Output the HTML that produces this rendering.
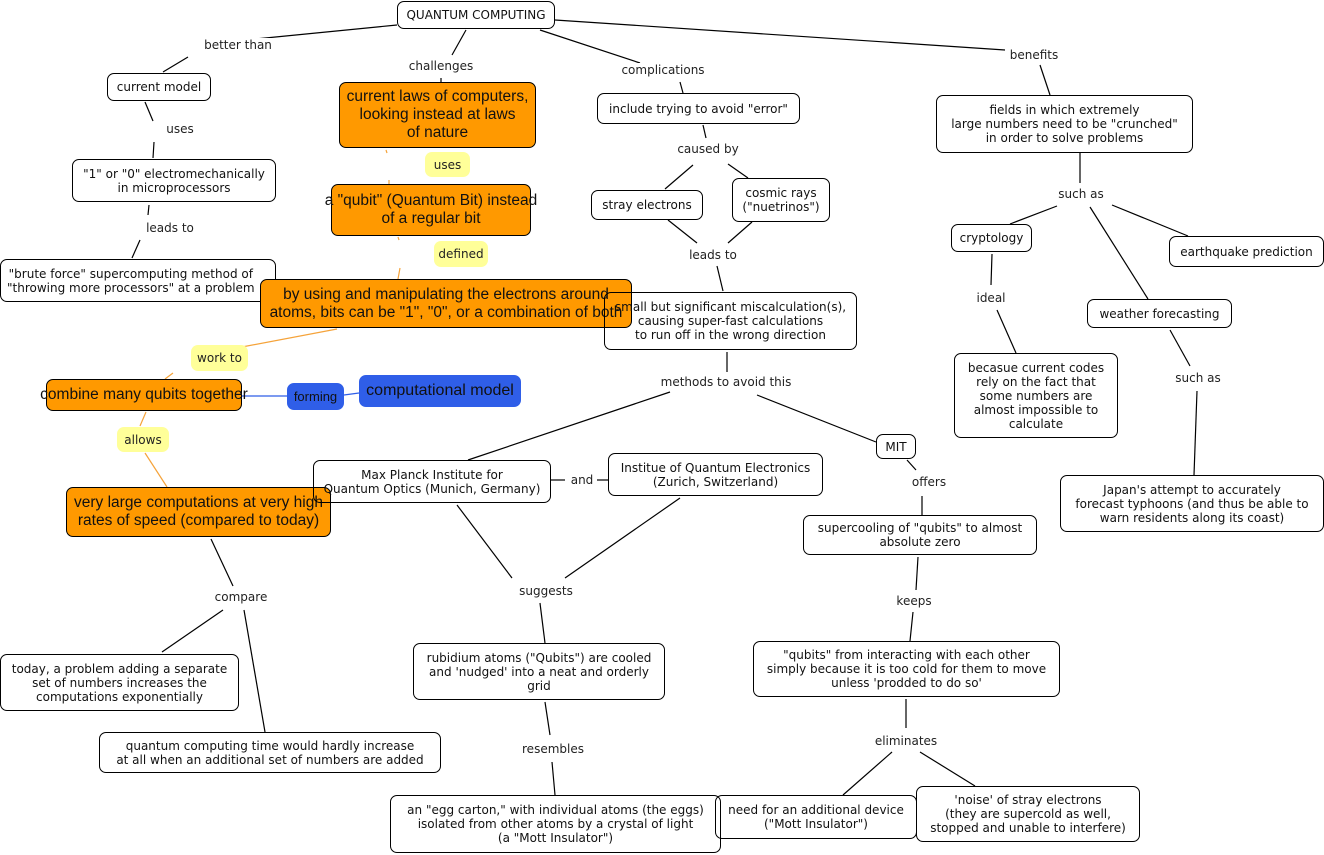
<!DOCTYPE html>
<html><head><meta charset="utf-8"><style>
body{margin:0;width:1324px;height:855px;background:#fff;position:relative;overflow:hidden;font-family:"DejaVu Sans","Liberation Sans",sans-serif;}
svg{position:absolute;left:0;top:0;}
.n{position:absolute;box-sizing:border-box;border:1px solid #000;border-radius:7px;display:flex;align-items:center;justify-content:center;text-align:center;font-size:12px;line-height:14px;color:#111;white-space:nowrap;}
.o{background:#f90;font-family:"Liberation Sans",sans-serif;font-size:15.5px;line-height:18px;color:#111;}
.b{background:#2f5ee8;border-color:#2f5ee8;color:#111;font-family:"Liberation Sans",sans-serif;font-size:16px;}
.y{position:absolute;background:#ffff99;border-radius:7px;display:flex;align-items:center;justify-content:center;font-size:12px;color:#222;}
.l{position:absolute;font-size:12px;color:#222;white-space:nowrap;transform:translate(-50%,-50%);background:#fff;padding:0 2px;}
</style></head><body>
<svg width="1324" height="855" stroke="#000" stroke-width="1.2" fill="none">
<line x1="397" y1="25" x2="245" y2="40"/><line x1="188" y1="57" x2="163" y2="72"/>
<line x1="466" y1="30" x2="452" y2="55"/><line x1="441" y1="78" x2="441" y2="84"/>
<line x1="540" y1="30" x2="640" y2="63"/><line x1="680" y1="82" x2="683" y2="93"/>
<line x1="555" y1="20" x2="1005" y2="50"/><line x1="1040" y1="65" x2="1050" y2="95"/>
<line x1="145" y1="102" x2="153" y2="121"/><line x1="154" y1="142" x2="153" y2="158"/>
<line x1="149" y1="205" x2="148" y2="215"/><line x1="140" y1="240" x2="132" y2="258"/>
<line x1="703" y1="125" x2="706" y2="138"/><line x1="693" y1="165" x2="665" y2="189"/><line x1="728" y1="164" x2="748" y2="178"/>
<line x1="668" y1="220" x2="697" y2="243"/><line x1="752" y1="222" x2="728" y2="243"/>
<line x1="717" y1="266" x2="723" y2="291"/>
<line x1="727" y1="352" x2="727" y2="372"/><line x1="670" y1="392" x2="468" y2="460"/><line x1="757" y1="395" x2="876" y2="442"/>
<line x1="1080" y1="153" x2="1080" y2="183"/><line x1="1057" y1="206" x2="1010" y2="224"/><line x1="1112" y1="205" x2="1188" y2="236"/><line x1="1090" y1="207" x2="1148" y2="299"/>
<line x1="992" y1="254" x2="991" y2="285"/><line x1="997" y1="310" x2="1016" y2="353"/>
<line x1="1170" y1="330" x2="1190" y2="366"/><line x1="1197" y1="391" x2="1194" y2="475"/>
<line x1="907" y1="460" x2="916" y2="470"/><line x1="922" y1="496" x2="922" y2="515"/>
<line x1="918" y1="557" x2="916" y2="590"/><line x1="913" y1="612" x2="910" y2="641"/>
<line x1="906" y1="699" x2="906" y2="728"/><line x1="892" y1="752" x2="843" y2="795"/><line x1="920" y1="752" x2="975" y2="786"/>
<line x1="551" y1="480" x2="565" y2="480"/><line x1="597" y1="480" x2="608" y2="480"/>
<line x1="457" y1="505" x2="512" y2="578"/><line x1="680" y1="498" x2="565" y2="578"/>
<line x1="540" y1="603" x2="545" y2="643"/><line x1="545" y1="702" x2="550" y2="735"/><line x1="552" y1="762" x2="555" y2="795"/>
<line x1="211" y1="539" x2="233" y2="586"/><line x1="223" y1="610" x2="162" y2="652"/><line x1="244" y1="610" x2="265" y2="732"/>
<g stroke="#f5a33a"><line x1="386" y1="150" x2="387" y2="153"/><line x1="389" y1="180" x2="389" y2="184"/>
<line x1="398" y1="237" x2="399" y2="240"/><line x1="400" y1="268" x2="398" y2="279"/>
<line x1="337" y1="329" x2="226" y2="350"/><line x1="173" y1="373" x2="165" y2="379"/>
<line x1="146" y1="412" x2="140" y2="426"/><line x1="145" y1="453" x2="167" y2="487"/></g>
<g stroke="#2f5ee8"><line x1="242" y1="396" x2="287" y2="396"/><line x1="344" y1="395" x2="359" y2="393"/></g>
</svg>
<div class="n" style="left:397px;top:1px;width:158px;height:28px">QUANTUM COMPUTING</div>
<div class="l" style="left:238px;top:45px">better than</div>
<div class="l" style="left:441px;top:66px">challenges</div>
<div class="l" style="left:663px;top:70px">complications</div>
<div class="l" style="left:1034px;top:55px">benefits</div>
<div class="n" style="left:107px;top:73px;width:104px;height:28px">current model</div>
<div class="l" style="left:180px;top:129px">uses</div>
<div class="n" style="left:72px;top:159px;width:204px;height:43px">"1" or "0" electromechanically<br>in microprocessors</div>
<div class="l" style="left:170px;top:228px">leads to</div>
<div class="n" style="left:0;top:259px;width:276px;height:43px;justify-content:flex-start;padding-left:6px;overflow:hidden">"brute force" supercomputing method of<br>"throwing more processors" at a problem</div>
<div class="n o" style="left:339px;top:82px;width:197px;height:66px">current laws of computers,<br>looking instead at laws<br>of nature</div>
<div class="y" style="left:425px;top:152px;width:45px;height:25px">uses</div>
<div class="n o" style="left:331px;top:184px;width:200px;height:52px">a "qubit" (Quantum Bit) instead<br>of a regular bit</div>
<div class="y" style="left:434px;top:241px;width:54px;height:26px">defined</div>
<div class="n o" style="left:260px;top:279px;width:372px;height:49px;overflow:hidden">by using and manipulating the electrons around<br>atoms, bits can be "1", "0", or a combination of both</div>
<div class="y" style="left:191px;top:345px;width:57px;height:26px">work to</div>
<div class="n o" style="left:46px;top:379px;width:196px;height:32px">combine many qubits together</div>
<div class="n b" style="left:287px;top:383px;width:57px;height:27px;font-size:13px">forming</div>
<div class="n b" style="left:359px;top:375px;width:162px;height:32px">computational model</div>
<div class="y" style="left:117px;top:427px;width:52px;height:25px">allows</div>
<div class="n o" style="left:66px;top:487px;width:265px;height:50px">very large computations at very high<br>rates of speed (compared to today)</div>
<div class="n" style="left:597px;top:93px;width:203px;height:31px">include trying to avoid "error"</div>
<div class="l" style="left:708px;top:149px">caused by</div>
<div class="n" style="left:591px;top:190px;width:112px;height:30px">stray electrons</div>
<div class="n" style="left:732px;top:178px;width:98px;height:44px">cosmic rays<br>("nuetrinos")</div>
<div class="l" style="left:713px;top:255px">leads to</div>
<div class="n" style="left:604px;top:292px;width:253px;height:58px">small but significant miscalculation(s),<br>causing super-fast calculations<br>to run off in the wrong direction</div>
<div class="l" style="left:726px;top:382px">methods to avoid this</div>
<div class="n" style="left:936px;top:95px;width:257px;height:58px">fields in which extremely<br>large numbers need to be "crunched"<br>in order to solve problems</div>
<div class="l" style="left:1081px;top:194px">such as</div>
<div class="n" style="left:951px;top:224px;width:81px;height:28px">cryptology</div>
<div class="n" style="left:1169px;top:236px;width:155px;height:31px">earthquake prediction</div>
<div class="l" style="left:991px;top:298px">ideal</div>
<div class="n" style="left:1087px;top:299px;width:145px;height:29px">weather forecasting</div>
<div class="n" style="left:954px;top:353px;width:164px;height:85px">becasue current codes<br>rely on the fact that<br>some numbers are<br>almost impossible to<br>calculate</div>
<div class="l" style="left:1198px;top:378px">such as</div>
<div class="n" style="left:1060px;top:475px;width:264px;height:57px">Japan's attempt to accurately<br>forecast typhoons (and thus be able to<br>warn residents along its coast)</div>
<div class="n" style="left:876px;top:434px;width:40px;height:25px">MIT</div>
<div class="l" style="left:929px;top:482px">offers</div>
<div class="n" style="left:313px;top:460px;width:238px;height:43px">Max Planck Institute for<br>Quantum Optics (Munich, Germany)</div>
<div class="l" style="left:582px;top:480px">and</div>
<div class="n" style="left:608px;top:453px;width:215px;height:43px">Institue of Quantum Electronics<br>(Zurich, Switzerland)</div>
<div class="n" style="left:803px;top:515px;width:234px;height:40px">supercooling of "qubits" to almost<br>absolute zero</div>
<div class="l" style="left:914px;top:601px">keeps</div>
<div class="l" style="left:546px;top:591px">suggests</div>
<div class="l" style="left:241px;top:597px">compare</div>
<div class="n" style="left:0;top:654px;width:239px;height:57px">today, a problem adding a separate<br>set of numbers increases the<br>computations exponentially</div>
<div class="n" style="left:99px;top:732px;width:342px;height:41px">quantum computing time would hardly increase<br>at all when an additional set of numbers are added</div>
<div class="n" style="left:413px;top:643px;width:252px;height:57px">rubidium atoms ("Qubits") are cooled<br>and 'nudged' into a neat and orderly<br>grid</div>
<div class="l" style="left:553px;top:749px">resembles</div>
<div class="n" style="left:753px;top:641px;width:307px;height:56px">"qubits" from interacting with each other<br>simply because it is too cold for them to move<br>unless 'prodded to do so'</div>
<div class="l" style="left:906px;top:741px">eliminates</div>
<div class="n" style="left:390px;top:795px;width:331px;height:58px">an "egg carton," with individual atoms (the eggs)<br>isolated from other atoms by a crystal of light<br>(a "Mott Insulator")</div>
<div class="n" style="left:715px;top:795px;width:202px;height:44px">need for an additional device<br>("Mott Insulator")</div>
<div class="n" style="left:916px;top:786px;width:224px;height:56px">'noise' of stray electrons<br>(they are supercold as well,<br>stopped and unable to interfere)</div>
</body></html>
